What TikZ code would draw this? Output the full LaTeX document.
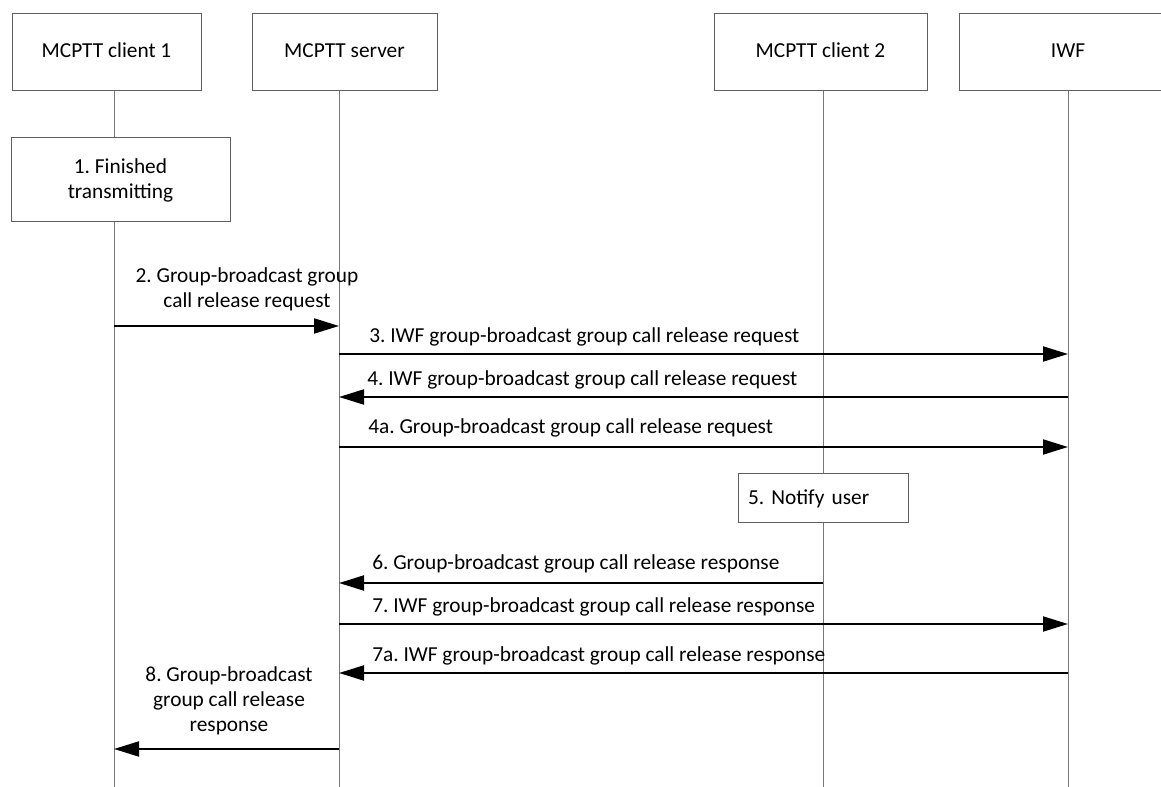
\documentclass[tikz,border=0pt]{standalone}
\usepackage{fontspec}
\setmainfont{Carlito}
\usetikzlibrary{arrows.meta}
\definecolor{boxgray}{RGB}{95,95,95}
\definecolor{linegray}{RGB}{120,120,120}
\frenchspacing
\begin{document}
\begin{tikzpicture}[x=0.75pt,y=-0.75pt,
  every node/.style={font=\fontsize{16}{18.75}\selectfont, text=black},
  hdr/.style={draw=boxgray, line width=0.75pt, fill=white, inner sep=0pt, minimum height=77*0.75pt, text height=11pt, text depth=3pt},
  act/.style={draw=boxgray, line width=0.75pt, fill=white, inner sep=0pt, align=center},
  life/.style={draw=linegray, line width=0.75pt},
  msg/.style={draw=black, line width=1.5pt, -{Triangle[length=18.75pt,width=11.25pt]}},
  lbl/.style={inner sep=0pt, anchor=mid west},
  mlbl/.style={inner sep=0pt, align=center}]
\useasboundingbox (0,0) rectangle (1161,787);
% lifeline coordinates
\coordinate (t1) at (114,91);  \coordinate (b1) at (114,787);
\coordinate (t2) at (339,91);  \coordinate (b2) at (339,787);
\coordinate (t3) at (823,91);  \coordinate (b3) at (823,787);
\coordinate (t4) at (1068,91); \coordinate (b4) at (1068,787);
\draw[life] (t1) -- (b1);
\draw[life] (t2) -- (b2);
\draw[life] (t3) -- (b3);
\draw[life] (t4) -- (b4);
% headers
\node[hdr, minimum width=189*0.75pt] (h1) at (106.5,52.5) {MCPTT client 1};
\node[hdr, minimum width=185*0.75pt] (h2) at (344.5,52.5) {MCPTT server};
\node[hdr, minimum width=213*0.75pt] (h3) at (820.5,52.5) {MCPTT client 2};
\node[hdr, minimum width=218*0.75pt] (h4) at (1068,52.5) {IWF};
% activity boxes
\node[act, minimum width=219*0.75pt, minimum height=84*0.75pt] (s1) at (120.5,180) {1. Finished\\transmitting};
\node[act, text width=150*0.75pt, inner xsep=7.5pt, minimum height=49*0.75pt, align=left] (s5) at (823,498.5) {5. Notify user};
% message coordinates
\coordinate (m2a) at (114,326);  \coordinate (m2b) at (339,326);
\coordinate (m3a) at (339,354);  \coordinate (m3b) at (1068,354);
\coordinate (m4a) at (1068,397); \coordinate (m4b) at (339,397);
\coordinate (m4xa) at (339,447); \coordinate (m4xb) at (1068,447);
\coordinate (m6a) at (823,583);  \coordinate (m6b) at (339,583);
\coordinate (m7a) at (339,624);  \coordinate (m7b) at (1068,624);
\coordinate (m7xa) at (1068,673); \coordinate (m7xb) at (339,673);
\coordinate (m8a) at (339,749);  \coordinate (m8b) at (114,749);
\draw[msg] (m2a) -- (m2b);
\draw[msg] (m3a) -- (m3b);
\draw[msg] (m4a) -- (m4b);
\draw[msg] (m4xa) -- (m4xb);
\draw[msg] (m6a) -- (m6b);
\draw[msg] (m7a) -- (m7b);
\draw[msg] (m7xa) -- (m7xb);
\draw[msg] (m8a) -- (m8b);
% labels
\node[mlbl] (l2) at (247,289) {2. Group-broadcast group\\call release request};
\node[lbl] (l3) at (369,339) {3. IWF group-broadcast group call release request};
\node[lbl] (l4) at (367,382) {4. IWF group-broadcast group call release request};
\node[lbl] (l4x) at (368,430) {4a. Group-broadcast group call release request};
\node[lbl] (l6) at (372,566) {6. Group-broadcast group call release response};
\node[lbl] (l7) at (372,609) {7. IWF group-broadcast group call release response};
\node[lbl] (l7x) at (372,658) {7a. IWF group-broadcast group call release response};
\node[mlbl] (l8) at (229,701) {8. Group-broadcast\\group call release\\response};
\end{tikzpicture}
\end{document}
